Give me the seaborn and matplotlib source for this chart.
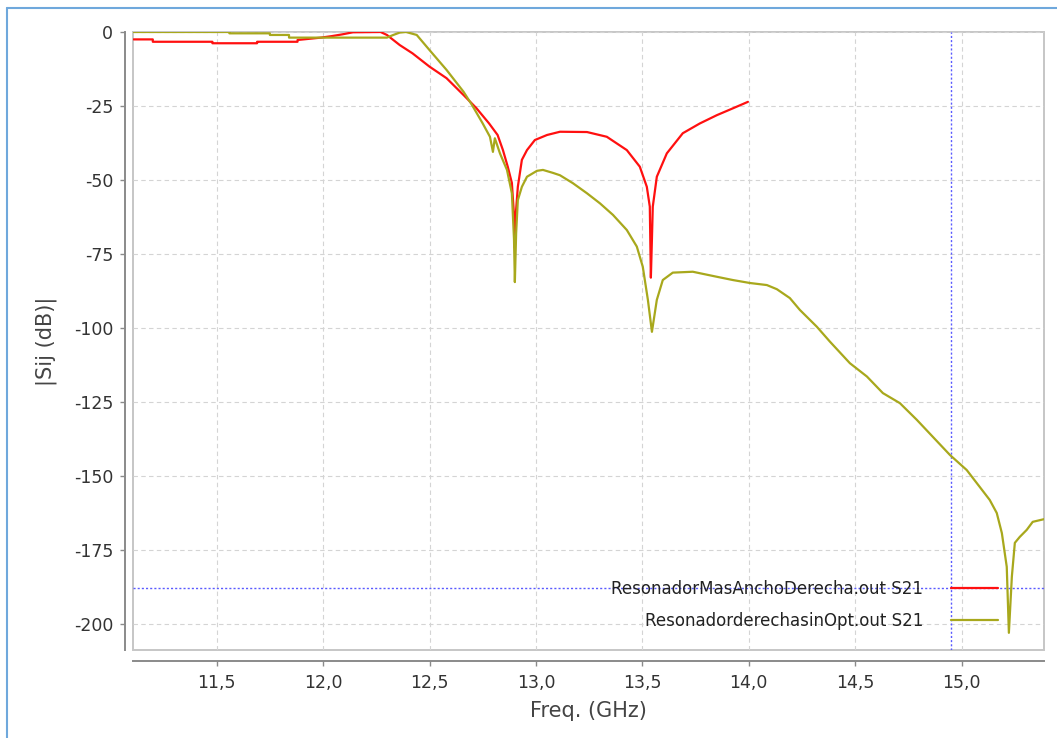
import numpy as np
import pandas as pd
import seaborn as sns
import matplotlib.pyplot as plt
from matplotlib.lines import Line2D
from matplotlib.patches import Rectangle
from matplotlib.ticker import FuncFormatter

# Data (freq in GHz, |S21| in dB)
freq_ancho = [11.11, 11.20, 11.20, 11.48, 11.48, 11.69, 11.69, 11.88, 11.88, 11.99,
              12.04, 12.09, 12.14, 12.27, 12.30, 12.36, 12.42, 12.50, 12.58, 12.66,
              12.72, 12.78, 12.82, 12.845, 12.868, 12.887, 12.897, 12.901, 12.905,
              12.915, 12.934, 12.958, 12.995, 13.052, 13.113, 13.24, 13.333, 13.427,
              13.488, 13.521, 13.535, 13.540, 13.545, 13.549, 13.568, 13.615, 13.69,
              13.77, 13.85, 13.925, 13.996]
s21_ancho = [-2.5, -2.5, -3.3, -3.3, -3.8, -3.8, -3.3, -3.3, -2.7, -1.9,
             -1.4, -0.8, -0.1, 0.0, -1.0, -4.4, -7.2, -11.7, -15.6, -21.3,
             -25.7, -30.9, -34.8, -39.9, -45.6, -51.0, -62.0, -73.0, -62.0,
             -52.3, -43.2, -39.9, -36.5, -34.8, -33.7, -33.8, -35.4, -39.9,
             -45.5, -52.3, -59.0, -83.0, -70.0, -59.0, -48.9, -41.0, -34.2,
             -30.9, -28.1, -25.8, -23.6]

freq_sinopt = [11.11, 11.56, 11.56, 11.75, 11.75, 11.84, 11.84, 12.30, 12.33, 12.36,
               12.39, 12.44, 12.50, 12.58, 12.66, 12.70, 12.75, 12.784, 12.798, 12.807,
               12.831, 12.864, 12.887, 12.897, 12.901, 12.907, 12.915, 12.934, 12.958,
               13.005, 13.033, 13.080, 13.113, 13.174, 13.24, 13.301, 13.362, 13.427,
               13.474, 13.502, 13.526, 13.545, 13.568, 13.596, 13.643, 13.737, 13.77,
               13.85, 13.925, 14.005, 14.085, 14.132, 14.193, 14.24, 14.32, 14.381,
               14.475, 14.555, 14.63, 14.71, 14.789, 14.865, 14.945, 15.024, 15.085,
               15.132, 15.165, 15.189, 15.212, 15.222, 15.236, 15.25, 15.273, 15.306,
               15.334, 15.387]
s21_sinopt = [0.0, 0.0, -0.45, -0.45, -1.0, -1.0, -1.9, -1.9, -1.0, -0.2,
              0.0, -1.0, -6.1, -12.8, -20.2, -24.7, -30.9, -35.4, -40.5, -35.9,
              -41.0, -46.6, -54.5, -70.0, -84.5, -68.0, -56.8, -52.3, -48.9,
              -46.9, -46.6, -47.6, -48.4, -51.1, -54.5, -57.9, -61.8, -66.9,
              -72.5, -79.3, -90.5, -101.3, -90.5, -83.8, -81.3, -81.0, -81.5,
              -82.7, -83.8, -84.8, -85.5, -86.9, -89.9, -93.9, -99.6, -104.6,
              -111.9, -116.4, -122.0, -125.4, -131.0, -136.8, -142.9, -148.0, -153.7,
              -158.1, -162.5, -169.3, -180.7, -203.0, -184.0, -172.6, -170.6, -168.2,
              -165.5, -164.6]

label_ancho = "ResonadorMasAnchoDerecha.out S21"
label_sinopt = "ResonadorderechasinOpt.out S21"
cross_x = 14.949
cross_y = -187.8
x_ticks = [11.5, 12.0, 12.5, 13.0, 13.5, 14.0, 14.5, 15.0]
y_ticks = [0, -25, -50, -75, -100, -125, -150, -175, -200]

df_ancho = pd.DataFrame({"freq": freq_ancho, "s21": s21_ancho})
df_sinopt = pd.DataFrame({"freq": freq_sinopt, "s21": s21_sinopt})

sns.set_theme(style="white")
plt.rcParams['font.family'] = ['DejaVu Sans']
plt.rcParams['axes.unicode_minus'] = False

W, H = 1057, 738
fig = plt.figure(figsize=(W / 100, H / 100), dpi=100)
ax = fig.add_axes([133 / W, 1 - 650 / H, 911 / W, 618 / H])

sns.lineplot(data=df_ancho, x="freq", y="s21", ax=ax, color="#ff1010", lw=1.6,
             sort=False, estimator=None, label=label_ancho)
sns.lineplot(data=df_sinopt, x="freq", y="s21", ax=ax, color="#a8a81c", lw=1.6,
             sort=False, estimator=None, label=label_sinopt)
handles = list(ax.lines[:2])

# crosshair
ax.axvline(cross_x, color="#5a5aff", lw=1.0, ls=(0, (1.5, 1.5)), zorder=1)
ax.axhline(cross_y, color="#5a5aff", lw=1.0, ls=(0, (1.5, 1.5)), zorder=1)

ax.set_xlim(11.107, 15.387)
ax.set_ylim(-208.8, 0)
ax.set_xticks(x_ticks)
ax.set_yticks(y_ticks)
ax.xaxis.set_major_formatter(FuncFormatter(lambda v, p: f"{v:.1f}".replace(".", ",")))
ax.yaxis.set_major_formatter(FuncFormatter(lambda v, p: f"{v:.0f}"))
ax.grid(True, color="#d4d4d4", lw=0.8, ls=(0, (4, 3)))
ax.set_axisbelow(True)

# JFreeChart-like frame with offset axes
for s in ["top", "right"]:
    ax.spines[s].set_visible(False)
ax.spines["left"].set_position(("outward", 5.8))
ax.spines["bottom"].set_position(("outward", 8.0))
for s in ["left", "bottom"]:
    ax.spines[s].set_color("#8a8a8a")
    ax.spines[s].set_linewidth(1.4)
ax.add_patch(Rectangle((0, 0), 1, 1, transform=ax.transAxes, fill=False,
                       ec="#c6c6c6", lw=1.4, clip_on=False, zorder=0.5))
ax.tick_params(axis="both", direction="out", length=3.5, width=1.0,
               color="#8a8a8a", labelsize=12.5, labelcolor="#333333",
               left=True, bottom=True)
ax.tick_params(axis="y", pad=5)
ax.tick_params(axis="x", pad=6)

ax.set_xlabel("Freq. (GHz)", fontsize=15, color="#444444", labelpad=6)
ax.set_ylabel("|Sij (dB)|", fontsize=15, color="#444444", labelpad=12)

leg = ax.legend(handles=handles, labels=[label_ancho, label_sinopt],
                loc="lower right", bbox_to_anchor=(0.9495, 0.033),
                frameon=False, markerfirst=False, fontsize=12,
                handlelength=2.8, handletextpad=1.7, labelspacing=0.81,
                borderpad=0, borderaxespad=0)
for t in leg.get_texts():
    t.set_color("#222222")

# outer window border (left and top)
fig.add_artist(Line2D([7 / W, 7 / W], [0, 1 - 8 / H], transform=fig.transFigure,
                      color="#6fa8dc", lw=1.5))
fig.add_artist(Line2D([7 / W, 1], [1 - 8 / H, 1 - 8 / H], transform=fig.transFigure,
                      color="#6fa8dc", lw=1.5))

fig.savefig("out.png", dpi=100)
